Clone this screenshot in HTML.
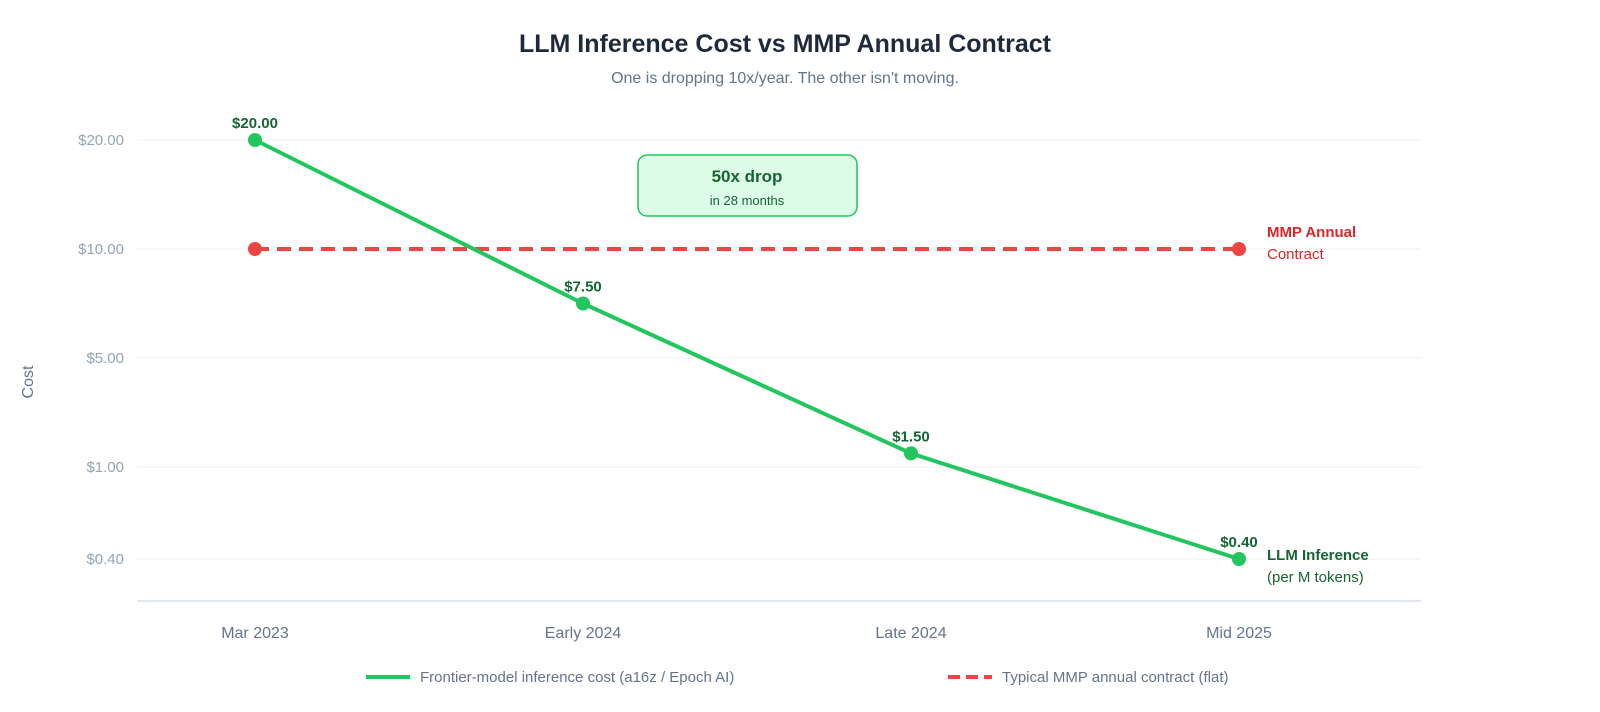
<!DOCTYPE html>
<html><head><meta charset="utf-8">
<style>
body{margin:0;background:#fff;font-family:"Liberation Sans",sans-serif;}
svg text{font-family:"Liberation Sans",sans-serif;}
</style></head>
<body>
<svg id="chart" width="1600" height="707" viewBox="0 0 1600 707">
<text x="785" y="52" text-anchor="middle" font-size="25" font-weight="bold" fill="#1e293b">LLM Inference Cost vs MMP Annual Contract</text>
<text x="785" y="83" text-anchor="middle" font-size="16" fill="#64748b">One is dropping 10x/year. The other isn't moving.</text>
<text x="33" y="382" text-anchor="middle" font-size="16" fill="#64748b" transform="rotate(-90 33 382)">Cost</text>
<g id="grid"></g>
<g id="marks"></g>
<g>
<rect x="638" y="155" width="219" height="61" rx="9" fill="#dcfce7" stroke="#22c55e" stroke-width="1.5"/>
<text x="747" y="182" text-anchor="middle" font-size="17" font-weight="bold" fill="#166534">50x drop</text>
<text x="747" y="205" text-anchor="middle" font-size="13" fill="#166534">in 28 months</text>
</g>
<g>
<text x="1267" y="237" font-size="15" font-weight="bold" fill="#dc2626">MMP Annual</text>
<text x="1267" y="259" font-size="15" fill="#dc2626">Contract</text>
</g>
<g>
<text x="1267" y="560" font-size="15" font-weight="bold" fill="#166534">LLM Inference</text>
<text x="1267" y="582" font-size="15" fill="#166534">(per M tokens)</text>
</g>
<g>
<line x1="366" y1="677" x2="410" y2="677" stroke="#22c55e" stroke-width="4"/>
<text x="420" y="682" font-size="15" fill="#64748b">Frontier-model inference cost (a16z / Epoch AI)</text>
<line x1="948" y1="677" x2="992" y2="677" stroke="#ef4444" stroke-width="4" stroke-dasharray="12,6"/>
<text x="1002" y="682" font-size="15" fill="#64748b">Typical MMP annual contract (flat)</text>
</g>
</svg>
<script>
const categories=["Mar 2023","Early 2024","Late 2024","Mid 2025"];
const llmValues=[20,7.5,1.5,0.4];
const llmLabels=["$20.00","$7.50","$1.50","$0.40"];
const mmpValues=[10,10];
const mmpCats=[0,3];
const yTicks=[20,10,5,1,0.4];
const yTickLabels=["$20.00","$10.00","$5.00","$1.00","$0.40"];

const NS="http://www.w3.org/2000/svg";
const left=137,right=1421,axisY=601;
function x(i){return 255+i*(1239-255)/(categories.length-1);}
const yPix=[140,249,358,467,559];
function y(v){
  for(let k=0;k<yTicks.length-1;k++){
    const a=yTicks[k],b=yTicks[k+1];
    if(v<=a&&v>=b){return yPix[k]+(a-v)/(a-b)*(yPix[k+1]-yPix[k]);}
  }
  return v>yTicks[0]?yPix[0]:yPix[yPix.length-1];
}
function mk(tag,attrs,parent,text){const e=document.createElementNS(NS,tag);for(const k in attrs)e.setAttribute(k,attrs[k]);if(text!==undefined)e.textContent=text;parent.appendChild(e);return e;}
const grid=document.getElementById('grid'),marks=document.getElementById('marks');
yTicks.forEach((t,i)=>{
  const l=mk('line',{x1:left,x2:right,y1:y(t),y2:y(t),stroke:'#eef2f6','stroke-width':1},grid);
  
  
  const tx=mk('text',{x:124,y:y(t)+5,'text-anchor':'end','font-size':15,fill:'#94a3b8'},grid,yTickLabels[i]);
  
  
});
const ax=mk('line',{x1:left,x2:right,y1:axisY,y2:axisY,stroke:'#e2e8f0','stroke-width':2},grid);


categories.forEach((c,i)=>{
  const t=mk('text',{x:x(i),y:638,'text-anchor':'middle','font-size':16,fill:'#64748b'},grid,c);
  
  
});
const mmp=mk('line',{x1:x(mmpCats[0]),x2:x(mmpCats[1]),y1:y(mmpValues[0]),y2:y(mmpValues[1]),stroke:'#ef4444','stroke-width':4,'stroke-dasharray':'14,8'},marks);


mmpCats.forEach((ci,i)=>{
  const p=mk('circle',{cx:x(ci),cy:y(mmpValues[i]),r:7,fill:'#ef4444'},marks);
  
  
});
const pts=llmValues.map((v,i)=>x(i)+','+y(v)).join(' ');
const pl=mk('polyline',{points:pts,fill:'none',stroke:'#22c55e','stroke-width':4,'stroke-linejoin':'round'},marks);


llmValues.forEach((v,i)=>{
  const p=mk('circle',{cx:x(i),cy:y(v),r:7,fill:'#22c55e'},marks);
  
  
  const t=mk('text',{x:x(i),y:y(v)-12,'text-anchor':'middle','font-size':15,'font-weight':'bold',fill:'#166534'},marks,llmLabels[i]);
  
  
});
</script>
</body></html>
